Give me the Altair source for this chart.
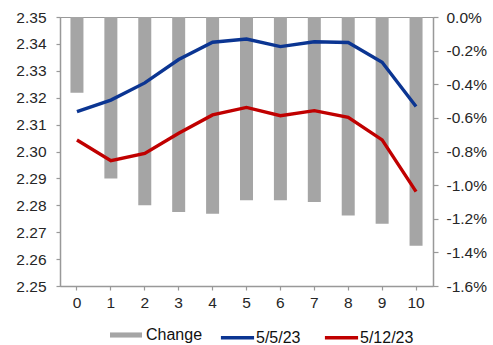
import altair as alt
import pandas as pd

# Tenor buckets on the x axis
tenors = [0, 1, 2, 3, 4, 5, 6, 7, 8, 9, 10]

# Curve levels on the two dates (left axis)
curve_may5 = [2.3148, 2.3191, 2.3255, 2.3342, 2.3406, 2.3418, 2.3390, 2.3408, 2.3405, 2.3332, 2.3167]
curve_may12 = [2.3043, 2.2966, 2.2993, 2.3068, 2.3136, 2.3164, 2.3133, 2.3152, 2.3127, 2.3043, 2.2851]

# Percentage change between the two dates (right axis, as fractions)
change = [-0.0045, -0.0096, -0.0112, -0.0116, -0.0117, -0.0109, -0.0109, -0.0110, -0.0118, -0.0123, -0.0136]

bar_name = ["Change"]
bar_color = ["#a5a5a5"]
line_names = ["5/5/23", "5/12/23"]
line_colors = ["#0b3592", "#c00000"]

left_ticks = [2.25, 2.26, 2.27, 2.28, 2.29, 2.30, 2.31, 2.32, 2.33, 2.34, 2.35]
right_ticks = [0.0, -0.002, -0.004, -0.006, -0.008, -0.010, -0.012, -0.014, -0.016]

bars_df = pd.DataFrame({"tenor": tenors, "change": change, "series": "Change"})
lines_df = pd.concat([
    pd.DataFrame({"tenor": tenors, "level": curve_may5, "series": "5/5/23"}),
    pd.DataFrame({"tenor": tenors, "level": curve_may12, "series": "5/12/23"}),
])

x_enc = alt.X(
    "tenor:O",
    title=None,
    scale=alt.Scale(paddingInner=0, paddingOuter=0),
    axis=alt.Axis(labelAngle=0, tickSize=4, labelPadding=5),
)

bars = alt.Chart(bars_df).mark_bar(size=13).encode(
    x=x_enc,
    y=alt.Y(
        "change:Q",
        title=None,
        scale=alt.Scale(domain=[-0.016, 0], nice=False, zero=False),
        axis=alt.Axis(
            orient="right",
            values=right_ticks,
            format=".1%",
            labelExpr="replace(datum.label, '\u2212', '-')",
            tickSize=5,
            labelPadding=8,
            grid=False,
        ),
    ),
    fill=alt.Fill(
        "series:N",
        scale=alt.Scale(domain=bar_name, range=bar_color),
        legend=alt.Legend(
            title=None,
            orient="none",
            legendX=50,
            legendY=302,
            direction="horizontal",
            symbolType="M-1,-0.16H1V0.16H-1Z",
            symbolSize=1024,
            symbolStrokeWidth=0,
            labelOffset=4,
            padding=0,
        ),
    ),
)

lines = alt.Chart(lines_df).mark_line(strokeWidth=3.4).encode(
    x=x_enc,
    y=alt.Y(
        "level:Q",
        title=None,
        scale=alt.Scale(domain=[2.25, 2.35], nice=False, zero=False),
        axis=alt.Axis(
            orient="left",
            values=left_ticks,
            format=".2f",
            tickSize=4,
            labelPadding=10,
            grid=False,
        ),
    ),
    stroke=alt.Stroke(
        "series:N",
        scale=alt.Scale(domain=line_names, range=line_colors),
        sort=line_names,
        legend=alt.Legend(
            title=None,
            orient="none",
            legendX=159,
            legendY=302,
            direction="horizontal",
            symbolType="stroke",
            symbolSize=1100,
            symbolStrokeWidth=3.4,
            labelOffset=0,
            columnPadding=17,
            padding=0,
        ),
    ),
)

chart = (
    alt.layer(bars, lines)
    .resolve_scale(y="independent")
    .properties(
        width=373,
        height=269,
        autosize=alt.AutoSizeParams(type="none"),
        padding={"left": 60, "top": 17, "right": 60, "bottom": 59},
    )
    .configure_view(stroke="#999999", strokeWidth=1)
    .configure_axis(
        domainColor="#999999",
        tickColor="#999999",
        labelColor="#262626",
        labelFont="Liberation Sans",
        labelFontSize=15.5,
        domainWidth=1.5,
        tickWidth=1.2,
    )
    .configure_legend(
        labelFont="Liberation Sans",
        labelFontSize=16,
        labelColor="#111111",
    )
)

chart.save("out.html", embed_options={"renderer": "svg", "actions": False})
